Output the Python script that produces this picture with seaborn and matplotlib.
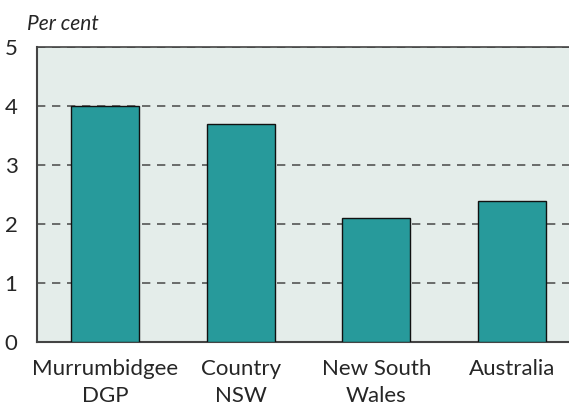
import matplotlib
matplotlib.use("Agg")
import matplotlib.pyplot as plt
import seaborn as sns
import pandas as pd

categories = ["Murrumbidgee\nDGP", "Country\nNSW", "New South\nWales", "Australia"]
values = [4.0, 3.7, 2.1, 2.4]
yticks = [0, 1, 2, 3, 4, 5]

df = pd.DataFrame({"region": categories, "value": values})

sns.set_theme(style="white")
plt.rcParams['font.family'] = ['Lato', 'DejaVu Sans']

fig = plt.figure(figsize=(5.69, 4.03), dpi=100)
ax = fig.add_axes([37/569, 1 - 342.3/403, 1 - 37/569, 295/403])
ax.set_facecolor("#E4EDEA")

sns.barplot(data=df, x="region", y="value", color="#279A9B", saturation=1,
            width=0.5, edgecolor="#111111", linewidth=1.0, ax=ax, zorder=3)

ax.set_ylim(0, 5)
ax.set_xlim(-0.5, 3.42)
ax.set_yticks(yticks)
ax.set_yticklabels([str(t) for t in yticks], fontsize=16)
ax.yaxis.grid(True, linestyle=(0, (5, 4)), color="#555555", linewidth=1.2, zorder=1)
ax.set_axisbelow(True)
ax.tick_params(axis="y", length=0, pad=14)
ax.tick_params(axis="x", length=0, labelsize=16, pad=12)
for lab in ax.get_xticklabels():
    lab.set_linespacing(1.45)
ax.set_xlabel("")
ax.set_ylabel("")

for s in ["left", "bottom"]:
    ax.spines[s].set_color("#444444")
    ax.spines[s].set_linewidth(1.5)
ax.spines["right"].set_visible(False)
ax.spines["top"].set_color("#444444")
ax.spines["top"].set_linewidth(1.2)

fig.text(27/569, 1 - 24/403, "Per cent", fontsize=15, fontstyle="italic",
         ha="left", va="center")

fig.savefig("out.png", dpi=100)
